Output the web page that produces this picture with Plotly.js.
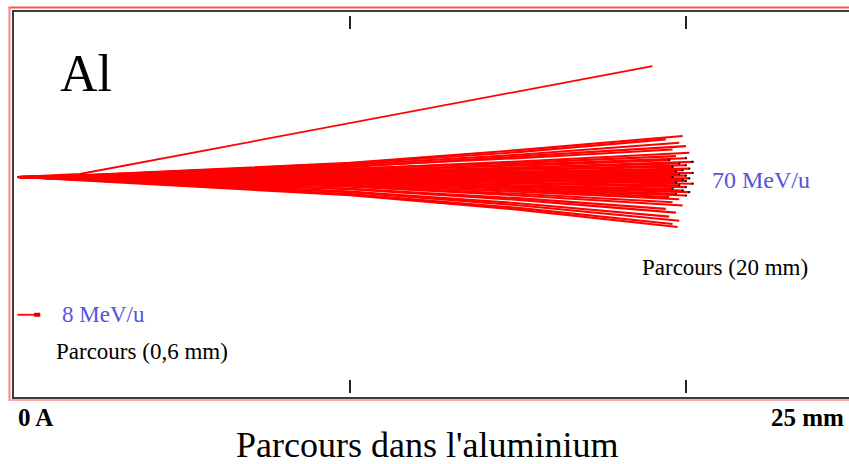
<!DOCTYPE html>
<html>
<head>
<meta charset="utf-8">
<script src="https://cdn.plot.ly/plotly-3.0.1.min.js"></script>
<style>html,body{margin:0;padding:0;background:#fff;overflow:hidden}#chart{width:849px;height:464px}</style>
</head>
<body>
<div id="chart"></div>
<script>
// 70 MeV/u ion tracks in aluminium (depth x in mm, lateral y in mm)
var trackEndX = [19.9,19.4,19.8,20.0,19.6,20.1,19.7,20.0,19.5,20.2,19.8,20.0,19.6,20.1,19.9,19.7,20.2,19.8,20.0,19.6,20.1,19.9,20.0,19.7,20.2,19.8,20.0,19.6,19.9,20.1,19.7,20.0,19.5,19.8,19.6,19.9,19.4,19.7,19.5,19.8,19.6,19.75];
var trackEndY = [1.22,1.12,1.02,0.92,0.82,0.72,0.62,0.56,0.50,0.45,0.40,0.35,0.30,0.25,0.20,0.16,0.12,0.08,0.04,0.00,-0.04,-0.08,-0.12,-0.16,-0.20,-0.25,-0.30,-0.35,-0.40,-0.45,-0.50,-0.55,-0.60,-0.66,-0.75,-0.85,-0.95,-1.06,-1.18,-1.30,-1.40,-1.49];
var trackY15 = [0.80,0.74,0.66,0.60,0.56,0.46,0.42,0.36,0.34,0.28,0.27,0.22,0.21,0.15,0.14,0.09,0.08,0.04,0.03,-0.01,-0.03,-0.06,-0.07,-0.11,-0.12,-0.17,-0.19,-0.24,-0.25,-0.30,-0.32,-0.37,-0.39,-0.44,-0.50,-0.55,-0.63,-0.68,-0.78,-0.84,-0.92,-0.97];
var trackY10 = [0.42,0.40,0.36,0.30,0.32,0.24,0.25,0.18,0.20,0.14,0.16,0.10,0.12,0.07,0.08,0.03,0.05,0.01,0.03,-0.01,0.00,-0.04,-0.02,-0.06,-0.04,-0.09,-0.08,-0.13,-0.11,-0.16,-0.15,-0.20,-0.19,-0.24,-0.27,-0.29,-0.35,-0.36,-0.43,-0.45,-0.51,-0.54];
var trackY1 = [0.03,0.02,0.03,0.01,0.02,0.01,0.02,0.00,0.02,0.01,0.00,0.01,-0.01,0.00,0.01,-0.01,0.00,-0.01,0.00,-0.02,-0.01,-0.02,-0.01,-0.03,-0.02,-0.03,-0.02,-0.04,-0.03,-0.04,-0.03,-0.05,-0.04,-0.05,-0.04,-0.05,-0.05,-0.06,-0.05,-0.06,-0.06,-0.07];
var depthStart = 0.1, depth1 = 1.5, depth10 = 10, depth15 = 15;
// scattered outlier track
var outlierX = [0.1, 1.96, 19.0];
var outlierY = [0.0, 0.09, 3.30];
// 8 MeV/u track (range 0.6 mm)
var lowX = [0.1, 0.78];
var lowY = [-4.1, -4.1];
var lowEndX = [0.6, 0.78];
var lowEndY = [-4.1, -4.1];
var tickPositions = [10, 20];

var tx = [], ty = [], ex = [], ey = [];
for (var i = 0; i < trackEndX.length; i++) {
  tx.push(depthStart, depth1, depth10, depth15, trackEndX[i], null);
  ty.push(0, trackY1[i], trackY10[i], trackY15[i], trackEndY[i], null);
  if (Math.abs(trackEndY[i]) < 0.6) { ex.push(trackEndX[i]); ey.push(trackEndY[i]); }
}

var traces = [
  {x: tx, y: ty, mode: 'lines', line: {color: '#ff0000', width: 2.1}, connectgaps: false, hoverinfo: 'skip'},
  {x: outlierX, y: outlierY, mode: 'lines', line: {color: '#ff0000', width: 1.8}, hoverinfo: 'skip'},
  {x: ex, y: ey, mode: 'markers', marker: {color: '#000', size: 2.2}, hoverinfo: 'skip'},
  {x: lowX, y: lowY, mode: 'lines', line: {color: '#ff0000', width: 1.8}, hoverinfo: 'skip'},
  {x: lowEndX, y: lowEndY, mode: 'lines', line: {color: '#e00000', width: 4}, hoverinfo: 'skip'}
];

var L = 14, T = 12, B = 397, W = 849;
function px(p) { return (p - L) / (W - L); }
function py(p) { return (B - p) / (B - T); }

var shapes = [
  {type: 'line', xref: 'paper', yref: 'paper', x0: px(8.5), x1: px(850), y0: py(7.5), y1: py(7.5), line: {color: '#ff5050', width: 2}},
  {type: 'line', xref: 'paper', yref: 'paper', x0: px(9.5), x1: px(9.5), y0: py(7), y1: py(400.5), line: {color: '#ff8080', width: 2}},
  {type: 'line', xref: 'paper', yref: 'paper', x0: px(8.5), x1: px(850), y0: py(400), y1: py(400), line: {color: '#ffaaaa', width: 2}}
];
tickPositions.forEach(function (t) {
  shapes.push({type: 'line', xref: 'x', yref: 'paper', x0: t, x1: t, y0: py(16), y1: py(29), line: {color: '#222', width: 2}});
  shapes.push({type: 'line', xref: 'x', yref: 'paper', x0: t, x1: t, y0: py(380), y1: py(393), line: {color: '#222', width: 2}});
});

var serif = 'Liberation Serif, Times New Roman, serif';
var blue = '#5454dc';
var annotations = [
  {text: 'Al', x: px(58), y: py(73), xanchor: 'left', yanchor: 'middle', font: {family: serif, size: 52, color: '#000'}},
  {text: '70 MeV/u', x: px(710), y: py(180), xanchor: 'left', yanchor: 'middle', font: {family: serif, size: 24, color: blue}},
  {text: 'Parcours (20 mm)', x: px(640), y: py(267), xanchor: 'left', yanchor: 'middle', font: {family: serif, size: 23, color: '#000'}},
  {text: '8 MeV/u', x: px(60), y: py(314), xanchor: 'left', yanchor: 'middle', font: {family: serif, size: 23, color: blue}},
  {text: 'Parcours (0,6 mm)', x: px(54), y: py(351), xanchor: 'left', yanchor: 'middle', font: {family: serif, size: 23, color: '#000'}},
  {text: '<b>0 A</b>', x: px(16), y: py(418), xanchor: 'left', yanchor: 'middle', font: {family: serif, size: 25, color: '#000'}},
  {text: '<b>25 mm</b>', x: px(846), y: py(418), xanchor: 'right', yanchor: 'middle', font: {family: serif, size: 25, color: '#000'}},
  {text: "Parcours dans l'aluminium", x: px(427), y: py(445), xanchor: 'center', yanchor: 'middle', font: {family: serif, size: 36, color: '#000'}}
];
annotations.forEach(function (a) { a.xref = 'paper'; a.yref = 'paper'; a.showarrow = false; });

var pxPerMm = 33.6;
var layout = {
  width: 849, height: 464,
  margin: {l: L, r: 0, t: T, b: 464 - B, pad: 0},
  paper_bgcolor: '#fff', plot_bgcolor: '#fff',
  showlegend: false,
  xaxis: {range: [0, (W - L) / pxPerMm], showgrid: false, zeroline: false, showticklabels: false, ticks: '',
          showline: true, mirror: true, linecolor: '#3c3c3c', linewidth: 2, fixedrange: true},
  yaxis: {range: [-(B - 177) / pxPerMm, (177 - T) / pxPerMm], showgrid: false, zeroline: false, showticklabels: false, ticks: '',
          showline: true, mirror: false, linecolor: '#3c3c3c', linewidth: 2, fixedrange: true},
  shapes: shapes,
  annotations: annotations
};

Plotly.newPlot('chart', traces, layout, {displayModeBar: false, staticPlot: true});
</script>
</body>
</html>
